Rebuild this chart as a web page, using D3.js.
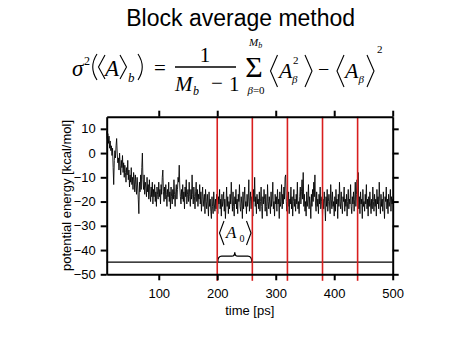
<!DOCTYPE html>
<html>
<head>
<meta charset="utf-8">
<script src="https://cdn.jsdelivr.net/npm/d3@7"></script>
<style>
  html, body { margin: 0; padding: 0; background: #fff; }
  svg { display: block; }
  .sans { font-family: "Liberation Sans", Arial, sans-serif; }
  .serif { font-family: "Liberation Serif", "Times New Roman", serif; }
</style>
</head>
<body>
<svg id="chart" width="474" height="355"></svg>
<script>
// ---------------- data ----------------
const title = "Block average method";
const xLabel = "time [ps]";
const yLabel = "potential energy [kcal/mol]";
const xTicks = [100, 200, 300, 400, 500];
const yTicks = [-50, -40, -30, -20, -10, 0, 10];
const xDomain = [11, 500];
const yDomain = [-50, 15];
// one sample per ps, from 11 ps to 500 ps
const timeStart = 11;
const timeStep = 1;
const energy = [
  9, 6, 8, 4, 7, 2, 5, 1, 3, -1,
  2, -6, -13, -3, 1, -2, 3, 6, 0, -4,
  -2, -7, 0, -5, -9, -3, -6, -1, -8, -4,
  -10, -5, -8, -12, -6, -9, -3, -11, -7, -14,
  -9, -12, -6, -13, -10, -15, -8, -11, -16, -9,
  -13, -17, -10, -14, -19, -25, -12, -16, -9, -15,
  -6, 0, -11, -15, -9, -17, -12, -14, -18, -10,
  -16, -13, -19, -11, -17, -20, -14, -18, -12, -21,
  -15, -18, -13, -20, -16, -22, -14, -17, -19, -12,
  -18, -15, -21, -13, -17, -10, -7, -16, -20, -14,
  -19, -13, -17, -22, -15, -18, -12, -20, -16, -23,
  -14, -18, -21, -15, -19, -11, -17, -22, -16, -13,
  -19, -15, -10, -12, -5, -14, -18, -21, -15, -19,
  -13, -20, -16, -23, -14, -18, -11, -21, -17, -15,
  -20, -12, -18, -22, -15, -19, -9, -17, -21, -14,
  -18, -23, -16, -12, -20, -15, -22, -17, -19, -13,
  -21, -16, -24, -18, -14, -22, -19, -17, -25, -15,
  -20, -23, -17, -21, -26, -16, -22, -19, -24, -27,
  -18, -22, -25, -16, -21, -24, -19, -23, -17, -22,
  -25, -18, -21, -15, -23, -19, -26, -17, -22, -20,
  -16, -24, -19, -27, -21, -14, -22, -18, -25, -20,
  -23, -17, -21, -12, -19, -24, -16, -22, -26, -18,
  -21, -15, -23, -19, -25, -17, -20, -13, -22, -24,
  -18, -21, -27, -16, -23, -19, -14, -22, -20, -25,
  -17, -22, -19, -11, -24, -20, -16, -23, -18, -21,
  -26, -15, -20, -10, -22, -18, -25, -17, -21, -19,
  -23, -16, -24, -20, -14, -22, -27, -18, -21, -15,
  -19, -24, -17, -22, -26, -13, -20, -23, -18, -21,
  -25, -16, -22, -19, -12, -23, -20, -26, -17, -21,
  -18, -24, -15, -21, -19, -27, -16, -22, -20, -13,
  -23, -17, -21, -14, -19, -10, -9, -20, -24, -18,
  -22, -16, -25, -19, -21, -14, -23, -18, -26, -20,
  -15, -22, -19, -24, -17, -21, -12, -23, -20, -25,
  -18, -14, -21, -16, -11, -19, -8, -22, -17, -24,
  -20, -26, -16, -22, -19, -13, -23, -18, -21, -27,
  -17, -22, -15, -20, -12, -18, -9, -21, -24, -16,
  -22, -19, -25, -17, -21, -14, -23, -20, -18, -26,
  -19, -23, -16, -21, -28, -18, -22, -15, -24, -20,
  -17, -21, -25, -13, -19, -23, -16, -22, -20, -26,
  -18, -24, -15, -21, -19, -27, -17, -22, -12, -20,
  -23, -16, -21, -25, -18, -20, -14, -24, -19, -22,
  -17, -26, -20, -15, -23, -19, -21, -13, -22, -25,
  -18, -21, -16, -24, -19, -12, -22, -17, -11, -20,
  -8, -23, -18, -25, -16, -21, -19, -27, -15, -22,
  -20, -24, -17, -21, -13, -23, -19, -26, -18, -22,
  -16, -21, -25, -19, -23, -14, -20, -24, -17, -22,
  -19, -26, -15, -21, -18, -23, -12, -20, -25, -17,
  -22, -19, -24, -16, -21, -27, -18, -20, -14, -23,
  -19, -25, -17, -22, -20, -15, -24, -18, -21, -19
];
const blockBoundaries = [200, 260, 320, 380, 440];
const baselineLevel = -45;
const braceBlock = [200, 260];

// ---------------- layout ----------------
const svg = d3.select("#chart");
const pLeft = 106.7, pRight = 392.7, pTop = 116.7, pBottom = 274.3;
const x = d3.scaleLinear().domain(xDomain).range([pLeft, pRight]);
const y = d3.scaleLinear().domain(yDomain).range([pBottom, pTop]);

// title
svg.append("text").attr("class", "sans")
  .attr("x", 240.7).attr("y", 26)
  .attr("text-anchor", "middle")
  .attr("font-size", 23)
  .attr("fill", "#000")
  .text(title);

// ---------------- formula ----------------
const f = svg.append("g").attr("class", "serif").attr("fill", "#000");
function txt(s, xx, yy, size, italic, anchor) {
  return f.append("text").attr("x", xx).attr("y", yy)
    .attr("font-size", size)
    .attr("font-style", italic ? "italic" : "normal")
    .attr("text-anchor", anchor || "start")
    .text(s);
}
function delim(d) {
  f.append("path").attr("d", d).attr("fill", "none")
    .attr("stroke", "#000").attr("stroke-width", 1.1)
    .attr("stroke-linejoin", "miter");
}
// sigma^2 ( <A>_b )
txt("σ", 72, 76, 23, true);
txt("2", 84, 65, 12, false);
delim("M97,54 Q88.5,67 97,80");
delim("M105,55 L98.5,67 L105,79");
txt("A", 105, 76, 23, true);
delim("M120,55 L126.5,67 L120,79");
txt("b", 128, 82, 13, true);
delim("M138,54 Q146.5,67 138,80");
txt("=", 154, 75, 21, false);
// fraction
txt("1", 205, 62, 21, false, "middle");
f.append("line").attr("x1", 175).attr("x2", 236).attr("y1", 67).attr("y2", 67)
  .attr("stroke", "#000").attr("stroke-width", 1.3);
txt("M", 175, 91, 21, true);
txt("b", 193, 95, 12, true);
txt("−", 211, 90, 21, false);
txt("1", 229, 91, 21, false);
// sum
txt("Σ", 254, 77, 30, false, "middle");
const up = f.append("text").attr("x", 249).attr("y", 46).attr("font-size", 11).attr("font-style", "italic");
up.append("tspan").text("M");
up.append("tspan").attr("font-size", 8).attr("dy", 2).text("b");
const lo = f.append("text").attr("x", 256).attr("y", 93.5).attr("font-size", 11).attr("text-anchor", "middle");
lo.append("tspan").attr("font-style", "italic").text("β");
lo.append("tspan").text("=0");
// <A^2_beta>
delim("M277.5,55 L270.5,71 L277.5,87");
txt("A", 279, 78, 22, true);
txt("2", 293, 64, 11, false);
txt("β", 292, 83, 11, true);
delim("M305,55 L312,71 L305,87");
txt("−", 318, 76, 20, false);
// <A_beta>^2
delim("M344,55 L337,71 L344,87");
txt("A", 345, 78, 22, true);
txt("β", 358.5, 83, 11, true);
delim("M367,55 L374,71 L367,87");
txt("2", 377, 53, 11, false);

// ---------------- plot ----------------
const data = energy.map((v, i) => ({ t: timeStart + i * timeStep, v }));

const plot = svg.append("g");
plot.append("path").datum(data)
  .attr("fill", "none")
  .attr("stroke", "#000")
  .attr("stroke-width", 0.95)
  .attr("stroke-opacity", 0.9)
  .attr("stroke-linejoin", "round")
  .attr("d", d3.line().x(d => x(d.t)).y(d => y(d.v)));

// horizontal reference line at -45
plot.append("line")
  .attr("x1", x(xDomain[0])).attr("x2", x(xDomain[1]))
  .attr("y1", y(baselineLevel)).attr("y2", y(baselineLevel))
  .attr("stroke", "#000").attr("stroke-width", 1.3);

// brace under <A0>
const bx0 = x(braceBlock[0]) + 0.5, bx1 = x(braceBlock[1]) - 0.5;
const bm = (bx0 + bx1) / 2, by = y(baselineLevel);
plot.append("path")
  .attr("d", `M${bx0},${by} Q${bx0},${by - 6} ${bx0 + 4},${by - 6} L${bm - 3},${by - 6} Q${bm},${by - 6} ${bm},${by - 10} Q${bm},${by - 6} ${bm + 3},${by - 6} L${bx1 - 4},${by - 6} Q${bx1},${by - 6} ${bx1},${by}`)
  .attr("fill", "none").attr("stroke", "#000").attr("stroke-width", 1.3);

// <A0> label
const lab = svg.append("g").attr("class", "serif");
lab.append("path").attr("d", "M224,221 L219.5,233 L224,245").attr("fill", "none").attr("stroke", "#000").attr("stroke-width", 1.1);
lab.append("text").attr("x", 226).attr("y", 238).attr("font-size", 17).attr("font-style", "italic").text("A");
lab.append("text").attr("x", 239.5).attr("y", 242).attr("font-size", 10).text("0");
lab.append("path").attr("d", "M246.5,221 L251,233 L246.5,245").attr("fill", "none").attr("stroke", "#000").attr("stroke-width", 1.1);

// red block boundaries
plot.selectAll("line.block").data(blockBoundaries).join("line")
  .attr("class", "block")
  .attr("x1", d => x(d)).attr("x2", d => x(d))
  .attr("y1", pTop).attr("y2", pBottom + 6.5)
  .attr("stroke", "#d81e1e").attr("stroke-width", 1.6);

// axes
function styleAxis(g) {
  g.select(".domain").attr("stroke", "#000").attr("stroke-width", 2);
  g.selectAll(".tick line").attr("stroke", "#000").attr("stroke-width", 2);
  g.selectAll(".tick text").attr("fill", "#000")
    .attr("font-family", "Liberation Sans, Arial, sans-serif").attr("font-size", 13);
}
svg.append("g").attr("transform", `translate(0,${pBottom})`)
  .call(d3.axisBottom(x).tickValues(xTicks).tickSize(6).tickSizeOuter(0).tickPadding(8.5))
  .call(styleAxis);
svg.append("g").attr("transform", `translate(0,${pTop})`)
  .call(d3.axisTop(x).tickValues(xTicks).tickSize(6).tickSizeOuter(0).tickFormat(""))
  .call(styleAxis);
svg.append("g").attr("transform", `translate(${pLeft},0)`)
  .call(d3.axisLeft(y).tickValues(yTicks).tickSize(6).tickSizeOuter(0).tickPadding(5))
  .call(styleAxis);
svg.append("g").attr("transform", `translate(${pRight},0)`)
  .call(d3.axisRight(y).tickValues(yTicks).tickSize(6).tickSizeOuter(0).tickFormat(""))
  .call(styleAxis);

// axis titles
svg.append("text").attr("class", "sans")
  .attr("x", (pLeft + pRight) / 2).attr("y", 314.5)
  .attr("text-anchor", "middle").attr("font-size", 13).attr("fill", "#000")
  .text(xLabel);
svg.append("text").attr("class", "sans")
  .attr("transform", `translate(70.5,${(pTop + pBottom) / 2}) rotate(-90)`)
  .attr("text-anchor", "middle").attr("font-size", 13).attr("fill", "#000")
  .text(yLabel);
</script>
</body>
</html>
